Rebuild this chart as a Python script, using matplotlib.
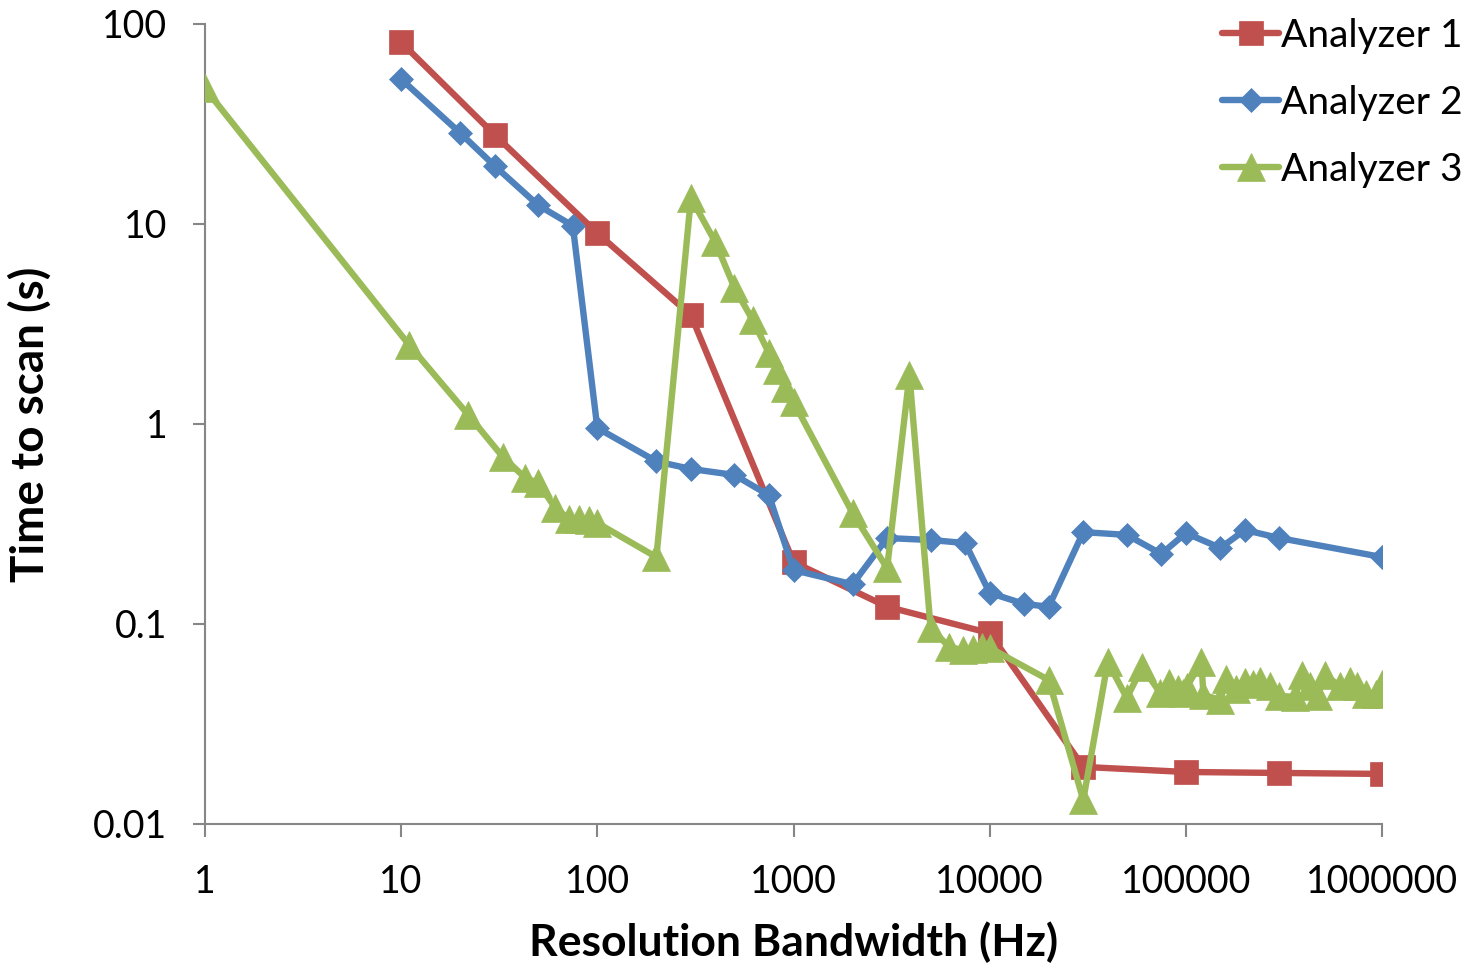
import matplotlib
matplotlib.use("Agg")
import matplotlib.pyplot as plt
from matplotlib.ticker import FixedLocator, FixedFormatter, NullLocator

plt.rcParams['font.family'] = ['Lato', 'DejaVu Sans']

# ---- data ----
a1_x = [10, 30, 100, 300, 1000, 3000, 10000, 30000, 100000, 300000, 1000000]
a1_y = [81, 27.9, 9.0, 3.5, 0.204, 0.122, 0.090, 0.0193, 0.0182, 0.018, 0.0178]

a2_x = [10, 20, 30, 50, 75, 100, 200, 300, 500, 750, 1000, 2000, 3000, 5000, 7500,
        10000, 15000, 20000, 30000, 50000, 75000, 100000, 150000, 200000, 300000, 1000000]
a2_y = [53, 28.5, 19.5, 12.4, 9.8, 0.955, 0.65, 0.596, 0.556, 0.44, 0.186, 0.158, 0.269, 0.263, 0.254,
        0.143, 0.126, 0.122, 0.288, 0.279, 0.224, 0.285, 0.24, 0.295, 0.269, 0.216]

a3_x = [1, 11, 22, 33, 43, 50, 61, 72, 81, 91, 100, 200, 300, 400, 500, 620, 750, 820, 900, 1000,
        2000, 3000, 3900, 5000, 6200, 7300, 8200, 9100, 10000, 20000, 30000,
        40000, 50000, 60000, 74000, 82000, 91000, 97000, 101000, 120000, 123000, 150000, 160000,
        180000, 200000, 220000, 240000, 270000, 300000, 360000, 390000, 430000, 470000, 510000,
        610000, 690000, 750000, 830000, 930000, 1000000]
a3_y = [47.6, 2.48, 1.11, 0.684, 0.537, 0.507, 0.38, 0.335, 0.335, 0.331, 0.32, 0.216, 13.5, 8.1, 4.8, 3.3, 2.26, 1.86, 1.51, 1.29,
        0.359, 0.19, 1.76, 0.0955, 0.077, 0.074, 0.075, 0.077, 0.076, 0.0525, 0.0132,
        0.0646, 0.0427, 0.061, 0.0452, 0.0507, 0.0473, 0.0452, 0.0484, 0.0646, 0.0442, 0.0417, 0.0531,
        0.0473, 0.0513, 0.0501, 0.0519, 0.049, 0.0437, 0.0432, 0.0556, 0.049, 0.0437, 0.0556,
        0.049, 0.0519, 0.049, 0.0447, 0.0447, 0.0501]

series_names = ["Analyzer 1", "Analyzer 2", "Analyzer 3"]
x_ticks = [1, 10, 100, 1000, 10000, 100000, 1000000]
x_tick_labels = ["1", "10", "100", "1000", "10000", "100000", "1000000"]
y_ticks = [0.01, 0.1, 1, 10, 100]
y_tick_labels = ["0.01", "0.1", "1", "10", "100"]

RED = "#C0504D"
BLUE = "#4F81BD"
GREEN = "#9BBB59"

fig = plt.figure(figsize=(14.68, 9.64), dpi=100)
ax = fig.add_axes([205/1468, 1-824/964, (1382-205)/1468, (824-24)/964])

LW = 4.6
ax.plot(a1_x, a1_y, color=RED, lw=LW, marker='s', ms=17, mew=0.5, mec=RED, mfc=RED,
        label=series_names[0], solid_joinstyle='round', solid_capstyle='round', zorder=3)
ax.plot(a2_x, a2_y, color=BLUE, lw=LW, marker='D', ms=12.5, mew=0.5, mec=BLUE, mfc=BLUE,
        label=series_names[1], solid_joinstyle='round', solid_capstyle='round', zorder=3)
ax.plot(a3_x, a3_y, color=GREEN, lw=LW, marker='^', ms=19.5, mew=0.5, mec=GREEN, mfc=GREEN,
        label=series_names[2], solid_joinstyle='round', solid_capstyle='round', zorder=3)

ax.set_xscale('log')
ax.set_yscale('log')
ax.set_xlim(1, 1e6)
ax.set_ylim(0.01, 100)

ax.xaxis.set_major_locator(FixedLocator(x_ticks))
ax.xaxis.set_major_formatter(FixedFormatter(x_tick_labels))
ax.xaxis.set_minor_locator(NullLocator())
ax.yaxis.set_major_locator(FixedLocator(y_ticks))
ax.yaxis.set_major_formatter(FixedFormatter(y_tick_labels))
ax.yaxis.set_minor_locator(NullLocator())

for s in ['top', 'right']:
    ax.spines[s].set_visible(False)
for s in ['left', 'bottom']:
    ax.spines[s].set_color('#868686')
    ax.spines[s].set_linewidth(1.5)

ax.tick_params(axis='both', which='major', direction='out', length=9, width=1.5,
               color='#868686', labelsize=27, labelcolor='black')
ax.tick_params(axis='y', pad=18)
ax.tick_params(axis='x', pad=20)

ax.set_xlabel("Resolution Bandwidth (Hz)", fontsize=32, fontweight='bold', labelpad=15)
ax.set_ylabel("Time to scan (s)", fontsize=33, fontweight='bold', labelpad=30)

leg = fig.legend(loc='upper right', bbox_to_anchor=(1.012, 1.006), frameon=False,
                 fontsize=28, handlelength=1.45, handletextpad=0.05, labelspacing=0.8,
                 borderaxespad=0.2)

fig.savefig("out.png", dpi=100)
